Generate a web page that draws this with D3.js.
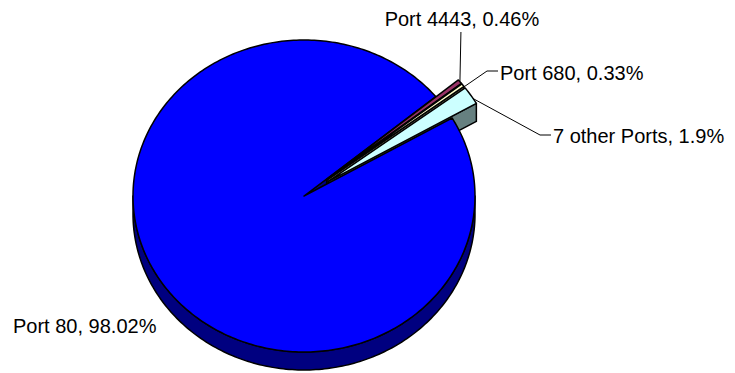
<!DOCTYPE html>
<html>
<head>
<meta charset="utf-8">
<script src="https://cdn.jsdelivr.net/npm/d3@7"></script>
<style>
  html, body { margin: 0; padding: 0; background: #fff; }
  svg { display: block; }
  text { font-family: "Liberation Sans", Arial, sans-serif; font-size: 20px; fill: #000; }
</style>
</head>
<body>
<script>
// ---- data ----
const categories = ["Port 80", "Port 4443", "Port 680", "7 other Ports"];
const values = [98.02, 0.46, 0.33, 1.9];
const topColors = ["#0000FF", "#993366", "#FFFFCC", "#CCFFFF"];
const sideColors = ["#000080", "#4D1A33", "#808066", "#668080"];
const exploded = [false, true, true, true];

// ---- layout ----
const W = 735, H = 373;
const cx = 304, cy = 196, rx = 171, ry = 156, depth = 18;
const explodeFrac = 0.17;
const firstSliceDeg = 60;

const svg = d3.select("body").append("svg").attr("width", W).attr("height", H);

const pie = d3.pie().sort(null).value(d => d.v)
  .startAngle(firstSliceDeg * Math.PI / 180)
  .endAngle(firstSliceDeg * Math.PI / 180 + 2 * Math.PI);
const data = categories.map((c, i) => ({ c, v: values[i], i }));
const arcs = pie(data);

function offsetOf(a) {
  if (!exploded[a.data.i]) return [0, 0];
  const m = (a.startAngle + a.endAngle) / 2;
  return [rx * explodeFrac * Math.sin(m), -ry * explodeFrac * Math.cos(m)];
}
function pt(phi, r, off, dz) {
  return [cx + off[0] + rx * r * Math.sin(phi), cy + off[1] - ry * r * Math.cos(phi) + dz];
}
function arcPts(s, e, off, dz) {
  const n = Math.max(2, Math.ceil(Math.abs(e - s) / (Math.PI / 180)));
  const out = [];
  for (let k = 0; k <= n; k++) out.push(pt(s + (e - s) * k / n, 1, off, dz));
  return out;
}
const line = d3.line();

const g = svg.append("g").attr("stroke", "#000").attr("stroke-width", 1.5).attr("stroke-linejoin", "round");

// outer curved walls (front half)
function drawOuterWall(a) {
  const off = offsetOf(a);
  for (let k = -1; k <= 1; k++) {
    const lo = Math.PI / 2 + 2 * Math.PI * k, hi = 3 * Math.PI / 2 + 2 * Math.PI * k;
    const s = Math.max(a.startAngle, lo), e = Math.min(a.endAngle, hi);
    if (e > s) {
      const top = arcPts(s, e, off, 0);
      const bot = arcPts(e, s, off, depth);
      g.append("path").attr("d", line(top.concat(bot)) + "Z").attr("fill", sideColors[a.data.i]);
    }
  }
}
function drawRadialWalls(a) {
  const off = offsetOf(a);
  const c0 = [cx + off[0], cy + off[1]];
  const c1 = [cx + off[0], cy + off[1] + depth];
  [[a.endAngle, Math.sin(a.endAngle) > 0], [a.startAngle, Math.sin(a.startAngle) < 0]].forEach(([phi, vis]) => {
    if (!vis) return;
    const p0 = pt(phi, 1, off, 0), p1 = pt(phi, 1, off, depth);
    g.append("path").attr("d", line([c0, p0, p1, c1]) + "Z").attr("fill", sideColors[a.data.i]);
  });
}
function drawTop(a) {
  const off = offsetOf(a);
  const pts = [[cx + off[0], cy + off[1]]].concat(arcPts(a.startAngle, a.endAngle, off, 0));
  g.append("path").attr("d", line(pts) + "Z").attr("fill", topColors[a.data.i]);
}

const main = arcs[0];
const small = arcs.slice(1);
drawOuterWall(main);
drawRadialWalls(main);
small.forEach(drawOuterWall);
small.forEach(drawRadialWalls);
drawTop(main);
small.forEach(drawTop);

// ---- labels ----
function rimMid(a) {
  const m = (a.startAngle + a.endAngle) / 2;
  return pt(m, 1, offsetOf(a), 0);
}
const lab = svg.append("g");
const lead = svg.append("g").attr("stroke", "#000").attr("stroke-width", 1).attr("fill", "none");

// Port 80
lab.append("text").attr("x", 13).attr("y", 333).text(`${categories[0]}, ${values[0]}%`);

// Port 4443
{
  const m = rimMid(arcs[1]);
  lab.append("text").attr("x", m[0] + 2).attr("y", 26).attr("text-anchor", "middle")
    .text(`${categories[1]}, ${values[1]}%`);
  lead.append("path").attr("d", line([[m[0] + 1, 32], [m[0], m[1]]]));
}
// Port 680
{
  const m = rimMid(arcs[2]);
  lab.append("text").attr("x", 500).attr("y", 80).text(`${categories[2]}, ${values[2]}%`);
  lead.append("path").attr("d", line([[498, 71], [487, 71], [m[0] + 2, m[1] + 1]]));
}
// 7 other Ports
{
  const m = rimMid(arcs[3]);
  lab.append("text").attr("x", 553).attr("y", 143).text(`${categories[3]}, ${values[3]}%`);
  lead.append("path").attr("d", line([[551, 135], [540, 135], [m[0] + 2, m[1] + 3]]));
}
</script>
</body>
</html>
